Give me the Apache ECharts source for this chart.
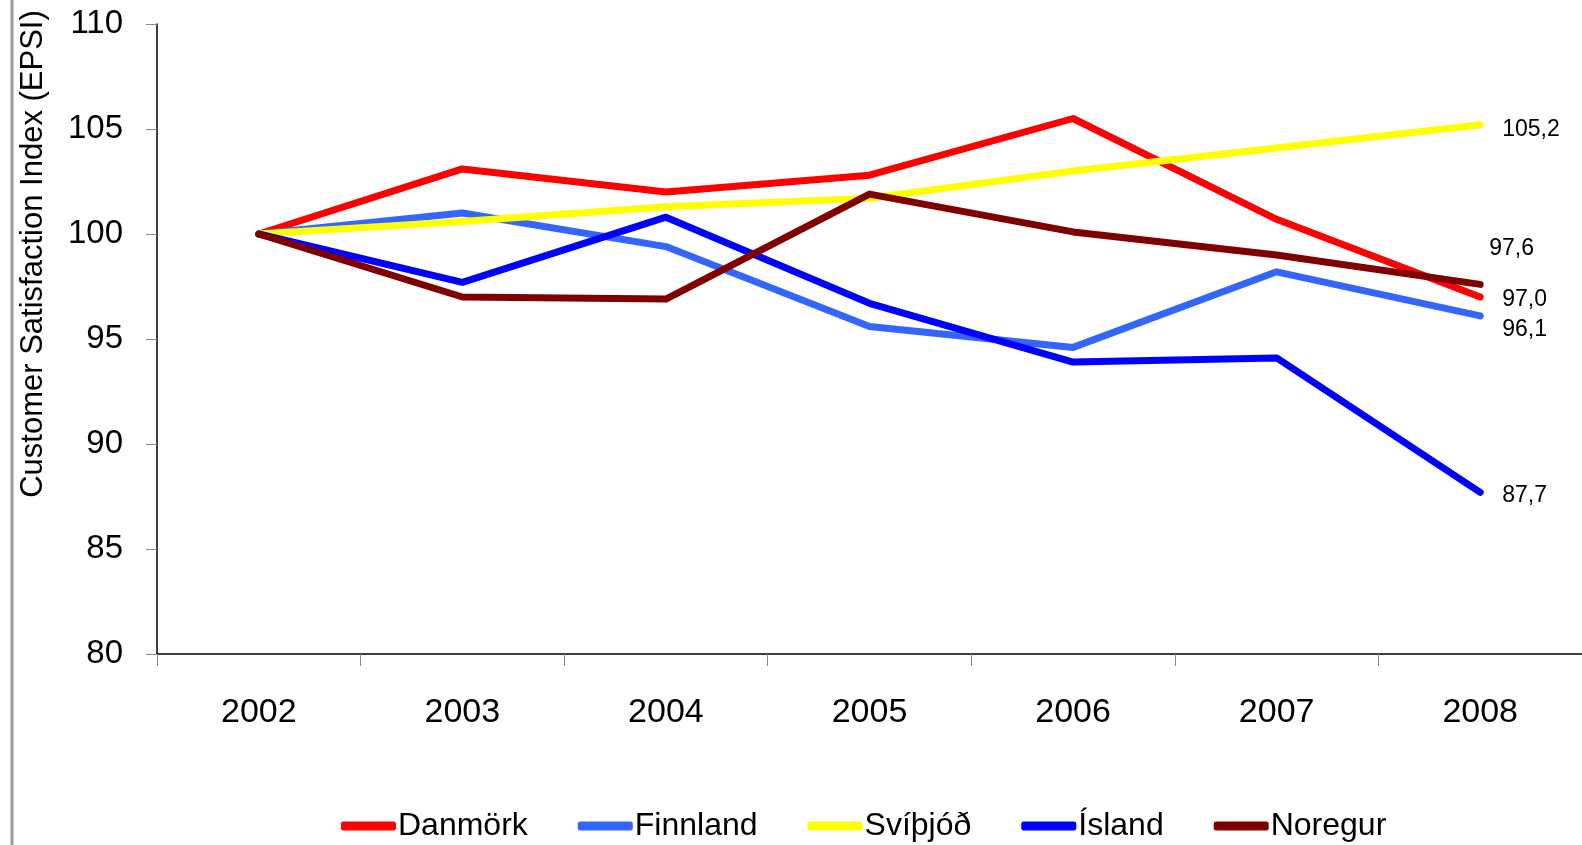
<!DOCTYPE html>
<html>
<head>
<meta charset="utf-8">
<script src="https://cdn.jsdelivr.net/npm/echarts@6/dist/echarts.min.js"></script>
<style>
  html, body { margin: 0; padding: 0; background: #fff; }
  #main { width: 1582px; height: 845px; }
</style>
</head>
<body>
<div id="main"></div>
<script>
  const years = ['2002', '2003', '2004', '2005', '2006', '2007', '2008']
  const danmork = [100, 103.1, 102.0, 102.8, 105.5, 100.7, 97.0]
  const finnland = [100, 101.0, 99.4, 95.6, 94.6, 98.2, 96.1]
  const svithjod = [100, 100.6, 101.3, 101.7, 103.0, 104.1, 105.2]
  const island = [100, 97.7, 100.8, 96.7, 93.9, 94.1, 87.7]
  const noregur = [100, 97.0, 96.9, 101.9, 100.1, 99.0, 97.6]
  const yTicks = [80, 85, 90, 95, 100, 105, 110]

  const font = '"Liberation Sans", Arial, sans-serif'

  function line(name, color, data, offset) {
    return {
      name: name,
      type: 'line',
      data: data,
      symbol: 'none',
      lineStyle: { color: color, width: 7, cap: 'round', join: 'round' },
      itemStyle: { color: color },
      endLabel: {
        show: true,
        distance: 22,
        offset: offset,
        color: '#000',
        fontSize: 23,
        fontFamily: font,
        formatter: p => p.value.toFixed(1).replace('.', ',')
      }
    }
  }

  const option = {
    animation: false,
    grid: { left: 157, right: 0, top: 24, bottom: 191, outerBoundsMode: 'none' },
    legend: {
      top: 805,
      left: 336,
      itemWidth: 55,
      itemHeight: 9,
      itemGap: 50,
      icon: 'roundRect',
      textStyle: { fontSize: 32, fontFamily: font, color: '#000', padding: [0, 0, 0, -3] },
      data: ['Danmörk', 'Finnland', 'Svíþjóð', 'Ísland', 'Noregur']
    },
    xAxis: {
      type: 'category',
      data: years,
      boundaryGap: true,
      axisLine: { lineStyle: { color: '#000', width: 1.5 } },
      axisTick: { show: true, length: 12, lineStyle: { color: '#888' } },
      axisLabel: { fontSize: 34, fontFamily: font, color: '#000', margin: 42 }
    },
    yAxis: {
      type: 'value',
      min: yTicks[0],
      max: yTicks[yTicks.length - 1],
      interval: 5,
      axisLine: { show: true, lineStyle: { color: '#000', width: 1.5 } },
      axisTick: { show: true, inside: false, length: 11, lineStyle: { color: '#888' } },
      splitLine: { show: false },
      axisLabel: { fontSize: 33, fontFamily: font, color: '#000', margin: 34 }
    },
    graphic: [{
      type: 'line',
      shape: { x1: 12, y1: 0, x2: 12, y2: 845 },
      style: { stroke: '#999', lineWidth: 3 }
    }, {
      type: 'text',
      x: 33,
      y: 254,
      rotation: Math.PI / 2,
      style: {
        text: 'Customer Satisfaction Index (EPSI)',
        fontSize: 31,
        fontFamily: font,
        fill: '#000',
        align: 'center',
        verticalAlign: 'middle'
      }
    }],
    series: [
      line('Danmörk', '#FF0000', danmork, [0, 3]),
      line('Finnland', '#3366FF', finnland, [0, 14]),
      line('Svíþjóð', '#FFFF00', svithjod, [0, 5]),
      line('Ísland', '#0000FF', island, [0, 3]),
      line('Noregur', '#800000', noregur, [-13, -36])
    ]
  }

  const myChart = echarts.init(document.getElementById('main'))
  myChart.setOption(option)
  window.onresize = () => {
    myChart.resize()
  }
</script>
</body>
</html>
